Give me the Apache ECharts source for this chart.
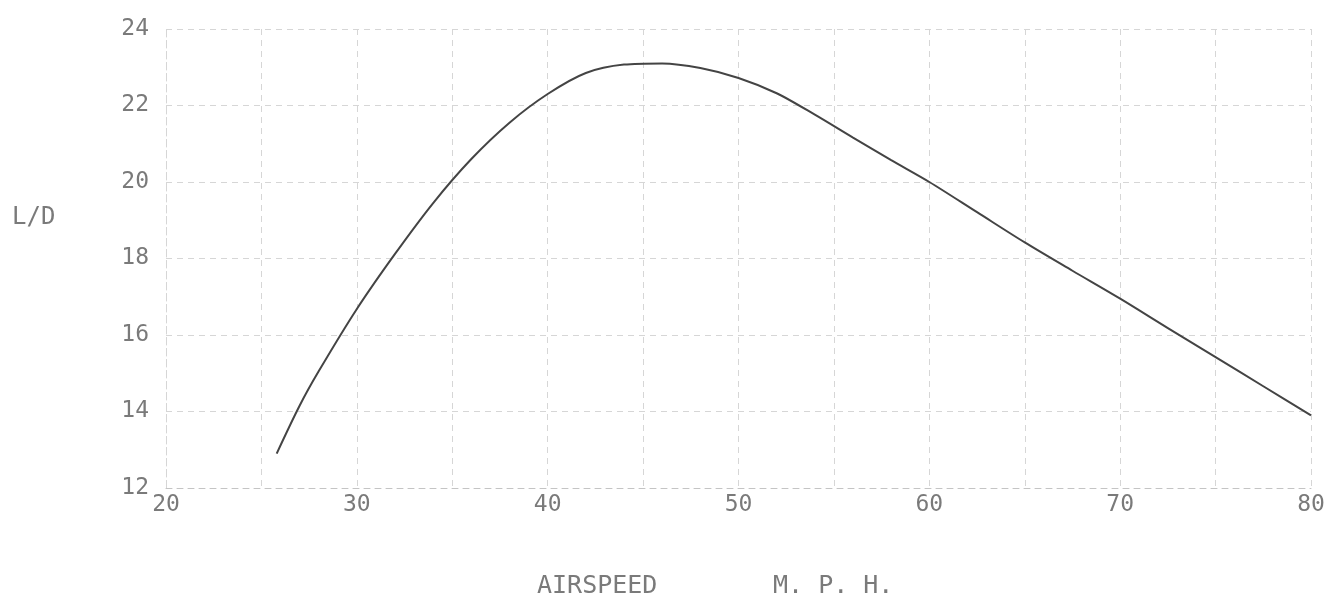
<!DOCTYPE html>
<html>
<head>
<meta charset="utf-8">
<script src="https://cdn.jsdelivr.net/npm/echarts@6/dist/echarts.min.js"></script>
<style>
html,body{margin:0;padding:0;background:#fff;}
#chart{width:1329px;height:608px;}
</style>
</head>
<body>
<div id="chart"></div>
<script>
// Airspeed (mph) and L/D
const airspeed = [25.8, 27, 28, 30, 32, 34, 36, 38, 40, 42, 44, 46, 48, 50, 52, 54, 56, 58, 60, 62.5, 65, 67.5, 70, 72.5, 75, 77.5, 80];
const liftDrag = [12.9, 14.15, 15.05, 16.68, 18.12, 19.45, 20.6, 21.55, 22.3, 22.85, 23.07, 23.1, 22.98, 22.72, 22.32, 21.76, 21.16, 20.57, 20.0, 19.21, 18.42, 17.68, 16.95, 16.18, 15.42, 14.66, 13.9];
const xTickLabels = ['20', '30', '40', '50', '60', '70', '80'];
const yTickLabels = ['12', '14', '16', '18', '20', '22', '24'];
const yAxisTitle = 'L/D';
const xAxisTitleA = 'AIRSPEED';
const xAxisTitleB = 'M. P. H.';

const chart = echarts.init(document.getElementById('chart'), null, {renderer: 'canvas'});
const textColor = '#7a7a7a';
const fontFam = '"DejaVu Sans Mono", "Liberation Mono", monospace';
const gridLine = {show: true, lineStyle: {color: '#d6d6d6', width: 1, type: [6, 5]}};

chart.setOption({
  animation: false,
  backgroundColor: '#ffffff',
  grid: {left: 166, right: 18, top: 29, bottom: 120, containLabel: false},
  xAxis: {
    type: 'value', min: 20, max: 80, interval: 5,
    axisLine: {show: true, lineStyle: {color: '#c4c4c4', type: [6, 5]}},
    axisTick: {show: false},
    splitLine: gridLine,
    axisLabel: {
      color: textColor, fontFamily: fontFam, fontSize: 23, margin: 6,
      formatter: function (v) { const s = String(v); return xTickLabels.indexOf(s) >= 0 ? s : ''; }
    }
  },
  yAxis: {
    type: 'value', min: 12, max: 24, interval: 2,
    axisLine: {show: true, lineStyle: {color: '#d6d6d6', type: [6, 5]}},
    axisTick: {show: false},
    splitLine: gridLine,
    axisLabel: {
      color: textColor, fontFamily: fontFam, fontSize: 23, margin: 17,
      formatter: function (v) { const s = String(v); return yTickLabels.indexOf(s) >= 0 ? s : ''; }
    }
  },
  graphic: [
    {type: 'text', left: 12, top: 206, style: {text: yAxisTitle, fill: textColor, font: '24px ' + fontFam}},
    {type: 'text', left: 537, top: 574, style: {text: xAxisTitleA, fill: textColor, font: '25px ' + fontFam}},
    {type: 'text', left: 773, top: 574, style: {text: xAxisTitleB, fill: textColor, font: '25px ' + fontFam}}
  ],
  series: [{
    type: 'line',
    data: airspeed.map((x, i) => [x, liftDrag[i]]),
    smooth: 0.3,
    symbol: 'none',
    lineStyle: {color: '#444444', width: 2}
  }]
});
</script>
</body>
</html>
